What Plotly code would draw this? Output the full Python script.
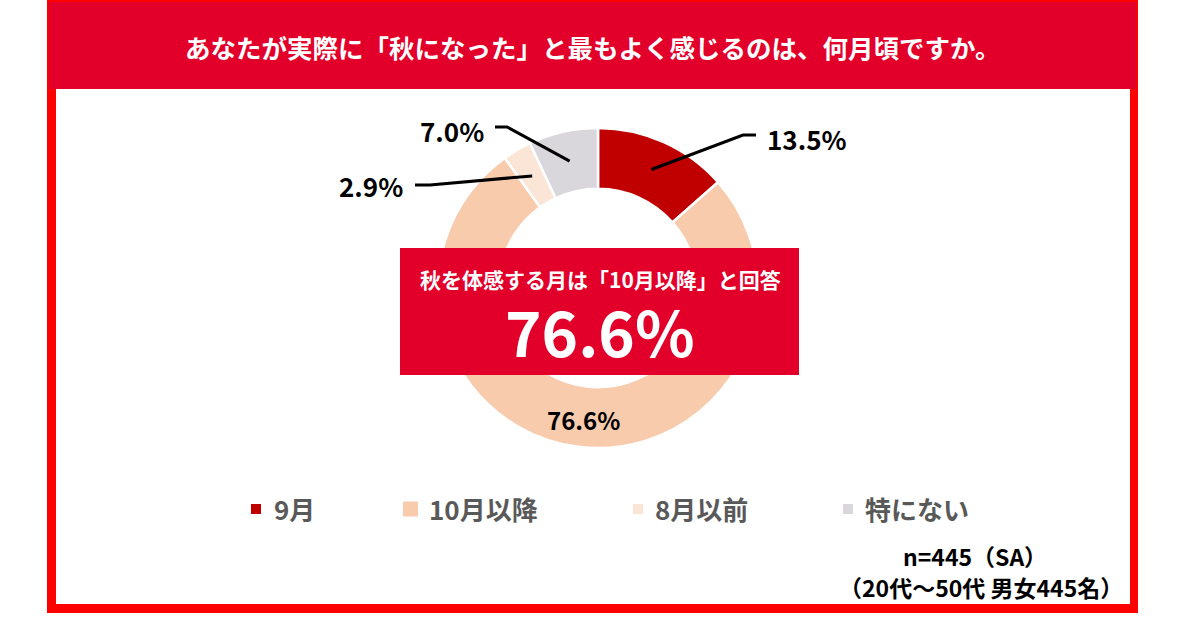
import math
import plotly.graph_objects as go

# --- データ ---
categories = ["9月", "10月以降", "8月以前", "特にない"]
values = [13.5, 76.6, 2.9, 7.0]
colors = ["#C00000", "#F8CBAD", "#FBE5D6", "#D9D6DC"]

title_text = "あなたが実際に「秋になった」と最もよく感じるのは、何月頃ですか。"
box_caption = "秋を体感する月は「10月以降」と回答"
box_value = 76.6
note_lines = ["n=445（SA）", "（20代～50代 男女445名）"]

# --- レイアウト (ピクセル基準) ---
W, H = 1200, 642
FONT = "Noto Sans CJK JP"
CX, CY, R = 598, 288, 160
HOLE = 0.62
R_LABEL = 130


def px(x):
    return x / W


def py(y):
    return 1 - y / H


def text_at(x, y, text, size, color, anchor="center"):
    return dict(x=px(x), y=py(y), xref="paper", yref="paper", text=text,
                showarrow=False, xanchor=anchor, yanchor="middle",
                font=dict(family=FONT, size=size, color=color, weight="bold"))


# 外側ラベルの位置 (折れ点, 文字位置)
outside_labels = {
    "9月": dict(elbow=[(743, 135), (756, 135)], text=(765, 138), anchor="left"),
    "特にない": dict(elbow=[(507, 127), (495, 127)], text=(486, 130), anchor="right"),
    "8月以前": dict(elbow=[(430, 185), (415, 185)], text=(405, 186), anchor="right"),
}
legend_pos = [(251, 10, 272), (403, 15, 427), (633, 10, 653), (843, 10, 863)]

fig = go.Figure()
fig.add_trace(
    go.Pie(
        labels=categories,
        values=values,
        marker=dict(colors=colors, line=dict(color="white", width=2.5)),
        hole=HOLE,
        sort=False,
        direction="clockwise",
        rotation=0,
        textinfo="none",
        hoverinfo="label+percent",
        showlegend=False,
        domain=dict(x=[px(CX - R), px(CX + R)], y=[py(CY + R), py(CY - R)]),
    )
)

shapes = []
annotations = []

# 枠
shapes.append(dict(type="rect", xref="paper", yref="paper", x0=px(47), x1=px(1138),
                   y0=py(613), y1=py(0), fillcolor="#FF0000", line=dict(width=0), layer="below"))
shapes.append(dict(type="rect", xref="paper", yref="paper", x0=px(49), x1=px(1136),
                   y0=py(89), y1=py(2), fillcolor="#E2002B", line=dict(width=0), layer="below"))
shapes.append(dict(type="rect", xref="paper", yref="paper", x0=px(56), x1=px(1130),
                   y0=py(604), y1=py(89), fillcolor="white", line=dict(width=0), layer="below"))

annotations.append(text_at(593, 46, title_text, 25.5, "white"))

# ラベル (データから角度を計算)
total = sum(values)
cum = 0
for cat, val in zip(categories, values):
    mid = (cum + val / 2) / total
    cum += val
    theta = 2 * math.pi * mid
    ax = CX + R_LABEL * math.sin(theta)
    ay = CY - R_LABEL * math.cos(theta)
    label = f"{val:.1f}%"
    if cat in outside_labels:
        cfg = outside_labels[cat]
        pts = [(ax, ay)] + cfg["elbow"]
        path = "M " + " L ".join(f"{px(x)},{py(y)}" for x, y in pts)
        shapes.append(dict(type="path", xref="paper", yref="paper", path=path,
                           line=dict(color="black", width=3)))
        tx, ty = cfg["text"]
        annotations.append(text_at(tx, ty, label, 26, "black", cfg["anchor"]))
    else:
        annotations.append(text_at(ax, ay + 2, label, 24, "black"))

# 中央ボックス
shapes.append(dict(type="rect", xref="paper", yref="paper", x0=px(400), x1=px(799),
                   y0=py(375), y1=py(248), fillcolor="#E2002B", line=dict(width=0)))
annotations.append(text_at(600, 279, box_caption, 21, "white"))
annotations.append(text_at(600, 330, f"{box_value:.1f}%", 62, "white"))

# 凡例
for cat, col, (sx, size, tx) in zip(categories, colors, legend_pos):
    shapes.append(dict(type="rect", xref="paper", yref="paper", x0=px(sx), x1=px(sx + size),
                       y0=py(509 + size / 2), y1=py(509 - size / 2), fillcolor=col, line=dict(width=0)))
    annotations.append(text_at(tx, 508, cat, 26, "#595959", "left"))

# 注記
annotations.append(text_at(975, 556, note_lines[0], 23, "black"))
annotations.append(text_at(1125, 587, note_lines[1], 23, "black", "right"))

fig.update_layout(
    width=W,
    height=H,
    margin=dict(l=0, r=0, t=0, b=0),
    paper_bgcolor="white",
    plot_bgcolor="white",
    shapes=shapes,
    annotations=annotations,
    font=dict(family=FONT),
)

fig.write_html("out.html", config={"displayModeBar": False},
               post_script="document.body.style.margin='0';")
